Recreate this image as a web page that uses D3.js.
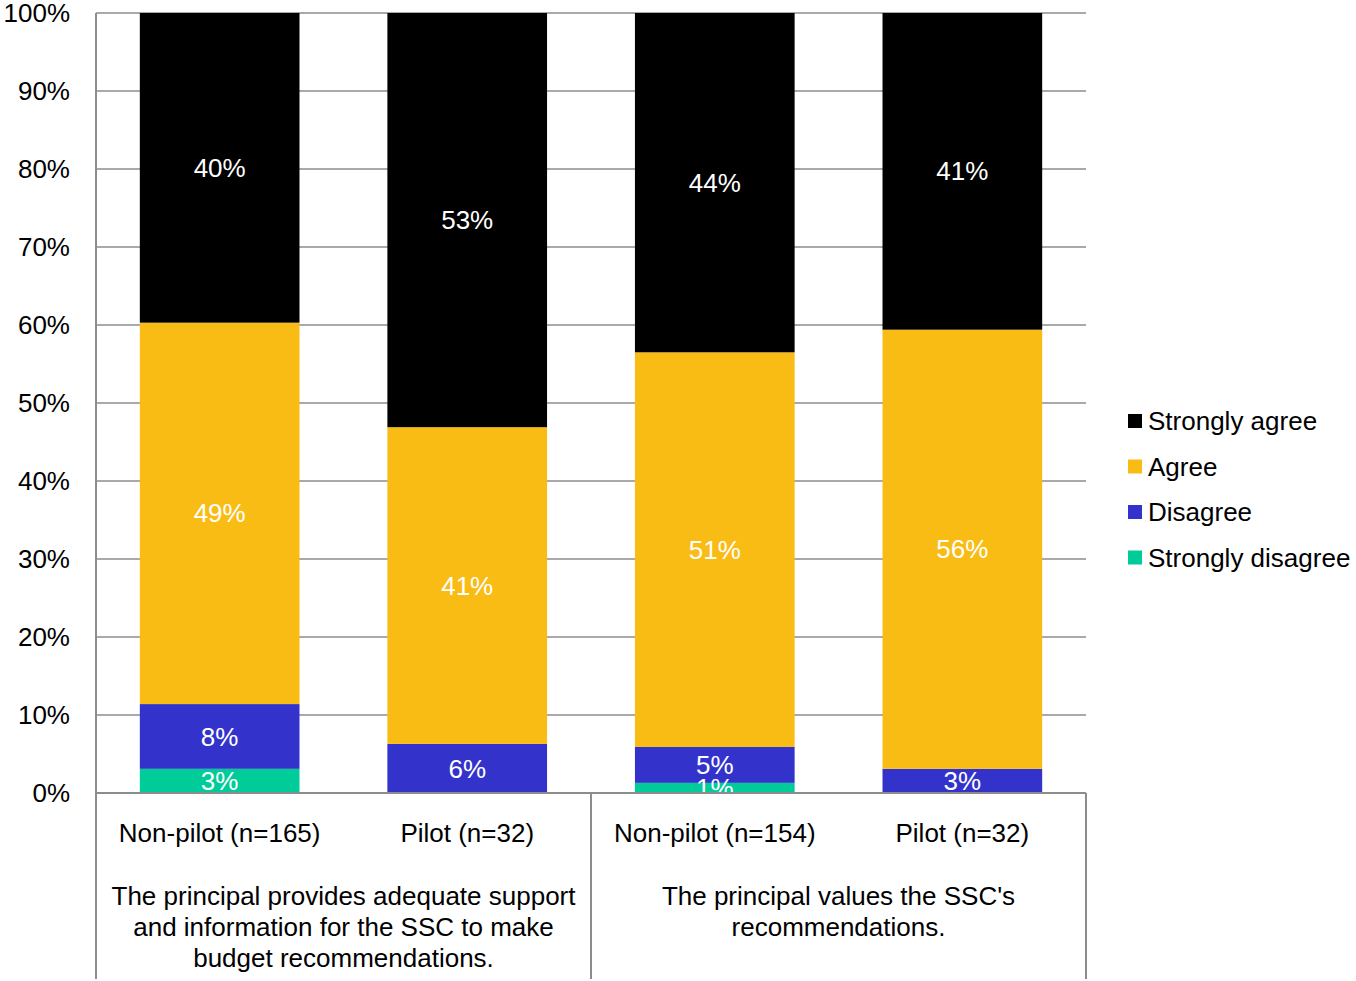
<!DOCTYPE html>
<html><head><meta charset="utf-8">
<script src="https://cdn.jsdelivr.net/npm/d3@7"></script>
<style>body{margin:0;background:#fff;} svg{display:block;font-family:"Liberation Sans",Arial,sans-serif;}</style>
</head><body><svg id="c" width="1356" height="981"></svg>
<script>
const categories = ["Non-pilot (n=165)", "Pilot (n=32)", "Non-pilot (n=154)", "Pilot (n=32)"];
const groups = ["The principal provides adequate support|and information for the SSC to make|budget recommendations.", "The principal values the SSC's|recommendations."];
const seriesNames = ["Strongly disagree", "Disagree", "Agree", "Strongly agree"];
const stronglyDisagree = [3.1, 0, 1.3, 0];
const disagree = [8.3, 6.3, 4.6, 3.1];
const agree = [48.9, 40.6, 50.6, 56.3];
const stronglyAgree = [39.7, 53.1, 43.5, 40.6];
const labelsSD = ["3%", "", "1%", ""];
const labelsD = ["8%", "6%", "5%", "3%"];
const labelsA = ["49%", "41%", "51%", "56%"];
const labelsSA = ["40%", "53%", "44%", "41%"];
const yTicks = [0,10,20,30,40,50,60,70,80,90,100];
const colors = ["#00CC99", "#3333CC", "#F9BC15", "#000000"];

const FS = 26;
const svg = d3.select("#c");
const L = 96, R = 1086, T = 13, B = 793;
const x = d3.scaleBand().domain(d3.range(categories.length)).range([L, R]).paddingInner(0.355).paddingOuter(0.177);
const y = d3.scaleLinear().domain([0, 100]).range([B, T]);
const grid = "#8c8c8c";

svg.append("g").selectAll("line").data(yTicks).join("line")
  .attr("x1", L).attr("x2", R).attr("y1", d => y(d)).attr("y2", d => y(d))
  .attr("stroke", grid).attr("stroke-width", 1.5);

svg.append("g").selectAll("text").data(yTicks).join("text")
  .attr("x", 70).attr("y", d => y(d)).attr("dy", "0.35em").attr("text-anchor", "end")
  .attr("font-size", FS).attr("fill", "#000").text(d => d + "%");

const data = categories.map((c, i) => ({i, sd: stronglyDisagree[i], d: disagree[i], a: agree[i], sa: stronglyAgree[i]}));
const stack = d3.stack().keys(["sd", "d", "a", "sa"])(data);
const labels = [labelsSD, labelsD, labelsA, labelsSA];

stack.forEach((s, k) => {
  svg.append("g").selectAll("rect").data(s).join("rect")
    .attr("x", d => x(d.data.i)).attr("width", x.bandwidth())
    .attr("y", d => y(d[1])).attr("height", d => y(d[0]) - y(d[1]))
    .attr("fill", colors[k]);
});
stack.forEach((s, k) => {
  svg.append("g").selectAll("text").data(s).join("text")
    .attr("x", d => x(d.data.i) + x.bandwidth() / 2)
    .attr("y", d => y((d[0] + d[1]) / 2)).attr("dy", "0.35em")
    .attr("text-anchor", "middle").attr("font-size", FS).attr("fill", "#fff")
    .text(d => labels[k][d.data.i]);
});

svg.append("line").attr("x1", L).attr("x2", L).attr("y1", T).attr("y2", 979).attr("stroke", grid).attr("stroke-width", 2);
svg.append("line").attr("x1", L).attr("x2", R).attr("y1", B).attr("y2", B).attr("stroke", grid).attr("stroke-width", 2);
const mid = (x(1) + x.bandwidth() + x(2)) / 2;
[mid, R].forEach(xx => svg.append("line").attr("x1", xx).attr("x2", xx).attr("y1", B).attr("y2", 979).attr("stroke", grid).attr("stroke-width", 2));

svg.append("g").selectAll("text").data(categories).join("text")
  .attr("x", (d, i) => x(i) + x.bandwidth() / 2).attr("y", 833).attr("dy", "0.35em")
  .attr("text-anchor", "middle").attr("font-size", FS).attr("fill", "#000").text(d => d);

const gx = [(L + mid) / 2, (mid + R) / 2];
groups.forEach((g, gi) => {
  g.split("|").forEach((line, li) => {
    svg.append("text").attr("x", gx[gi]).attr("y", 896 + li * 31).attr("dy", "0.35em")
      .attr("text-anchor", "middle").attr("font-size", FS).attr("fill", "#000").text(line);
  });
});

const legendOrder = [3, 2, 1, 0];
const lg = svg.append("g");
legendOrder.forEach((k, j) => {
  const yy = 421 + j * 45.5;
  lg.append("rect").attr("x", 1128).attr("y", yy - 7).attr("width", 14).attr("height", 14).attr("fill", colors[k]);
  lg.append("text").attr("x", 1148).attr("y", yy).attr("dy", "0.35em").attr("font-size", FS).attr("fill", "#000").text(seriesNames[k]);
});
</script></body></html>
